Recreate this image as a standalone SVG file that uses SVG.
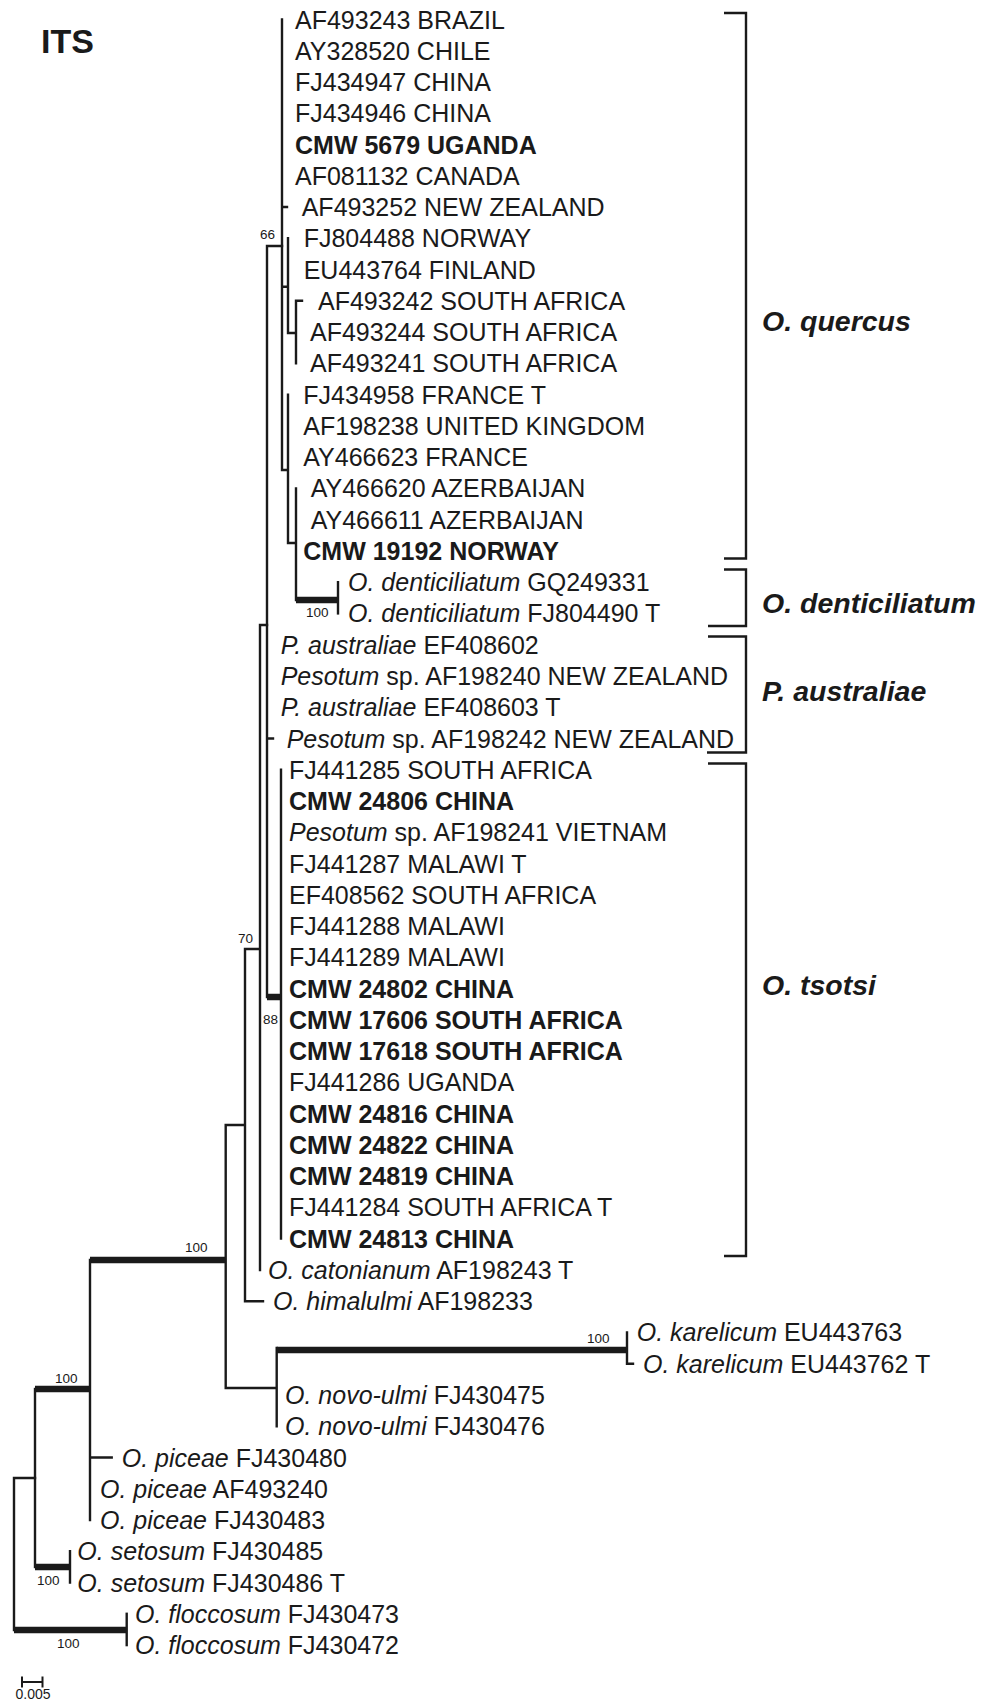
<svg xmlns="http://www.w3.org/2000/svg" width="988" height="1700" viewBox="0 0 988 1700">
<style>
text{font-family:"Liberation Sans",Arial,sans-serif;fill:#1a1a1a}
.lf{font-size:25px}
.b{font-weight:bold}
.i{font-style:italic}
.bs{font-size:13.5px}
.cl{font-size:28.5px;font-weight:bold;font-style:italic}
.t{font-size:34px;font-weight:bold}
.br{fill:none;stroke:#1a1a1a;stroke-width:2.4}
.e{fill:none;stroke:#1a1a1a;stroke-width:2.4;stroke-linecap:square}
.k{fill:none;stroke:#1a1a1a;stroke-width:6.5}
</style>
<rect width="988" height="1700" fill="#ffffff"/>
<text class="t" x="41" y="53">ITS</text>
<g id="connectors">
<path class="e" d="M282 19.5V470M282 207H287M282 286.7H288M288 238.3V333M288 333H296M296 300.8V363.4M296 300.8H302M282 470H288M288 394.6V543M288 543H296M296 488.4V600"/>
<path class="k" d="M296 600H338"/>
<path class="e" d="M338 582.2V613.4"/>
<path class="e" d="M267 246H282M267 246V997M267 738.5H273"/>
<path class="k" d="M267 997H281"/>
<path class="e" d="M281 769.7V1238.6"/>
<path class="e" d="M260 625H267M260 625V1270M245 949H260M245 949V1301.2H263M225.7 1125H245M225.7 1125V1388H276.7M276.7 1348V1426.2"/>
<path class="k" d="M276.7 1350H627"/>
<path class="e" d="M627 1332.4V1363.7H633"/>
<path class="k" d="M90 1260H225.7"/>
<path class="e" d="M90 1260V1520M90 1457.5H111.7"/>
<path class="k" d="M35 1389H90"/>
<path class="e" d="M35 1389V1567"/>
<path class="k" d="M35 1567H70"/>
<path class="e" d="M70 1551.3V1582.5M14 1478H35M14 1478V1630"/>
<path class="k" d="M14 1630H126.7"/>
<path class="e" d="M126.7 1613.8V1645.1"/>
</g>
<g id="support">
<text class="bs" x="275" y="239" text-anchor="end">66</text>
<text class="bs" x="306" y="617">100</text>
<text class="bs" x="238" y="943">70</text>
<text class="bs" x="263" y="1024">88</text>
<text class="bs" x="185" y="1252">100</text>
<text class="bs" x="55" y="1383">100</text>
<text class="bs" x="587" y="1343">100</text>
<text class="bs" x="37" y="1585">100</text>
<text class="bs" x="57" y="1648">100</text>
</g>
<g id="leaves" class="lf">
<g id="n1"><text class="lf" x="295" y="28.5">AF493243 BRAZIL</text></g>
<g id="n2"><text class="lf" x="295" y="59.8">AY328520 CHILE</text></g>
<g id="n3"><text class="lf" x="295" y="91">FJ434947 CHINA</text></g>
<g id="n4"><text class="lf" x="295" y="122.3">FJ434946 CHINA</text></g>
<g id="n5"><text class="lf b" x="295" y="153.5">CMW 5679 UGANDA</text></g>
<g id="n6"><text class="lf" x="295" y="184.8">AF081132 CANADA</text></g>
<g id="n7"><text class="lf" x="301.7" y="216.1">AF493252 NEW ZEALAND</text></g>
<g id="n8"><text class="lf" x="303.7" y="247.3">FJ804488 NORWAY</text></g>
<g id="n9"><text class="lf" x="303.7" y="278.6">EU443764 FINLAND</text></g>
<g id="n10"><text class="lf" x="318" y="309.8">AF493242 SOUTH AFRICA</text></g>
<g id="n11"><text class="lf" x="310" y="341.1">AF493244 SOUTH AFRICA</text></g>
<g id="n12"><text class="lf" x="310" y="372.4">AF493241 SOUTH AFRICA</text></g>
<g id="n13"><text class="lf" x="303.3" y="403.6">FJ434958 FRANCE T</text></g>
<g id="n14"><text class="lf" x="303.3" y="434.9">AF198238 UNITED KINGDOM</text></g>
<g id="n15"><text class="lf" x="303.3" y="466.1">AY466623 FRANCE</text></g>
<g id="n16"><text class="lf" x="310.7" y="497.4">AY466620 AZERBAIJAN</text></g>
<g id="n17"><text class="lf" x="310.7" y="528.7">AY466611 AZERBAIJAN</text></g>
<g id="n18"><text class="lf b" x="303.3" y="559.9">CMW 19192 NORWAY</text></g>
<g id="n19"><text class="lf" x="348" y="591.2"><tspan class="i">O. denticiliatum</tspan> GQ249331</text></g>
<g id="n20"><text class="lf" x="348" y="622.4"><tspan class="i">O. denticiliatum</tspan> FJ804490 T</text></g>
<g id="n21"><text class="lf" x="280.7" y="653.7"><tspan class="i">P. australiae</tspan> EF408602</text></g>
<g id="n22"><text class="lf" x="280.7" y="685"><tspan class="i">Pesotum</tspan> sp. AF198240 NEW ZEALAND</text></g>
<g id="n23"><text class="lf" x="280.7" y="716.2"><tspan class="i">P. australiae</tspan> EF408603 T</text></g>
<g id="n24"><text class="lf" x="286.7" y="747.5"><tspan class="i">Pesotum</tspan> sp. AF198242 NEW ZEALAND</text></g>
<g id="n25"><text class="lf" x="289" y="778.7">FJ441285 SOUTH AFRICA</text></g>
<g id="n26"><text class="lf b" x="289" y="810">CMW 24806 CHINA</text></g>
<g id="n27"><text class="lf" x="289" y="841.3"><tspan class="i">Pesotum</tspan> sp. AF198241 VIETNAM</text></g>
<g id="n28"><text class="lf" x="289" y="872.5">FJ441287 MALAWI T</text></g>
<g id="n29"><text class="lf" x="289" y="903.8">EF408562 SOUTH AFRICA</text></g>
<g id="n30"><text class="lf" x="289" y="935">FJ441288 MALAWI</text></g>
<g id="n31"><text class="lf" x="289" y="966.3">FJ441289 MALAWI</text></g>
<g id="n32"><text class="lf b" x="289" y="997.6">CMW 24802 CHINA</text></g>
<g id="n33"><text class="lf b" x="289" y="1028.8">CMW 17606 SOUTH AFRICA</text></g>
<g id="n34"><text class="lf b" x="289" y="1060.1">CMW 17618 SOUTH AFRICA</text></g>
<g id="n35"><text class="lf" x="289" y="1091.3">FJ441286 UGANDA</text></g>
<g id="n36"><text class="lf b" x="289" y="1122.6">CMW 24816 CHINA</text></g>
<g id="n37"><text class="lf b" x="289" y="1153.9">CMW 24822 CHINA</text></g>
<g id="n38"><text class="lf b" x="289" y="1185.1">CMW 24819 CHINA</text></g>
<g id="n39"><text class="lf" x="289" y="1216.4">FJ441284 SOUTH AFRICA T</text></g>
<g id="n40"><text class="lf b" x="289" y="1247.6">CMW 24813 CHINA</text></g>
<g id="n41"><text class="lf" x="268" y="1278.9"><tspan class="i">O. catonianum</tspan> AF198243 T</text></g>
<g id="n42"><text class="lf" x="273" y="1310.2"><tspan class="i">O. himalulmi</tspan> AF198233</text></g>
<g id="n43"><text class="lf" x="636.7" y="1341.4"><tspan class="i">O. karelicum</tspan> EU443763</text></g>
<g id="n44"><text class="lf" x="643" y="1372.7"><tspan class="i">O. karelicum</tspan> EU443762 T</text></g>
<g id="n45"><text class="lf" x="285" y="1403.9"><tspan class="i">O. novo-ulmi</tspan> FJ430475</text></g>
<g id="n46"><text class="lf" x="285" y="1435.2"><tspan class="i">O. novo-ulmi</tspan> FJ430476</text></g>
<g id="n47"><text class="lf" x="121.7" y="1466.5"><tspan class="i">O. piceae</tspan> FJ430480</text></g>
<g id="n48"><text class="lf" x="100" y="1497.7"><tspan class="i">O. piceae</tspan> AF493240</text></g>
<g id="n49"><text class="lf" x="100" y="1529"><tspan class="i">O. piceae</tspan> FJ430483</text></g>
<g id="n50"><text class="lf" x="77.3" y="1560.2"><tspan class="i">O. setosum</tspan> FJ430485</text></g>
<g id="n51"><text class="lf" x="77.3" y="1591.5"><tspan class="i">O. setosum</tspan> FJ430486 T</text></g>
<g id="n52"><text class="lf" x="135" y="1622.8"><tspan class="i">O. floccosum</tspan> FJ430473</text></g>
<g id="n53"><text class="lf" x="135" y="1654"><tspan class="i">O. floccosum</tspan> FJ430472</text></g>
</g>
<g id="clades">
<g id="c-quercus"><path class="br" d="M724 13H746V558.5H724"/><text class="cl" x="762" y="331">O. quercus</text></g>
<g id="c-denticiliatum"><path class="br" d="M724 569.5H746V626H708"/><text class="cl" x="762" y="613">O. denticiliatum</text></g>
<g id="c-australiae"><path class="br" d="M708 636.5H746V752.5H707"/><text class="cl" x="762" y="701">P. australiae</text></g>
<g id="c-tsotsi"><path class="br" d="M708 763.5H746V1256H724"/><text class="cl" x="762" y="995">O. tsotsi</text></g>
</g>
<g id="scalebar">
<path class="e" d="M22 1682H42.5M22 1677.5V1686.5M42.5 1677.5V1686.5" style="stroke-width:2"/>
<text x="33" y="1699" font-size="14" text-anchor="middle">0.005</text>
</g>
</svg>
